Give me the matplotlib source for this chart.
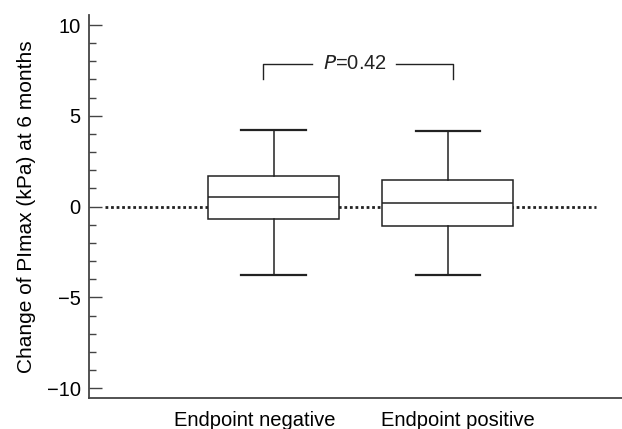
import matplotlib
matplotlib.use("Agg")
import matplotlib.pyplot as plt

plt.rcParams["font.family"] = ["Liberation Sans", "DejaVu Sans"]

groups = ["Endpoint negative", "Endpoint positive"]
whislo = [-3.75, -3.75]
q1 = [-0.68, -1.09]
med = [0.53, 0.20]
q3 = [1.71, 1.47]
whishi = [4.23, 4.17]
p_text = "0.42"

positions = [1, 2]
stats = [
    {"whislo": lo, "q1": a, "med": m, "q3": b, "whishi": hi, "fliers": []}
    for lo, a, m, b, hi in zip(whislo, q1, med, q3, whishi)
]

fig = plt.figure(figsize=(6.22, 4.29), dpi=100)
ax = fig.add_axes([0.143, 0.072, 0.857, 0.893])

ink = "#222222"
ax.plot([0.035, 2.85], [0, 0], color=ink, lw=2, ls=(0, (1, 1)), zorder=1)

ax.bxp(
    stats,
    positions=positions,
    widths=0.75,
    patch_artist=True,
    showfliers=False,
    boxprops={"facecolor": "white", "edgecolor": ink, "linewidth": 1.1},
    medianprops={"color": ink, "linewidth": 1.1},
    whiskerprops={"color": ink, "linewidth": 1.1},
    capprops={"color": ink, "linewidth": 1.6},
    capwidths=0.37,
    zorder=2,
)

# significance bracket
top, foot = 7.86, 7.04
ax.plot([0.94, 0.94, 1.22], [foot, top, top], color=ink, lw=1)
ax.plot([1.70, 2.03, 2.03], [top, top, foot], color=ink, lw=1)
ax.text(1.465, top, r"$\it{P}$" + "=" + p_text, ha="center", va="center",
        fontsize=14.5, color=ink)

ax.set_xlim(-0.06, 3.0)
ax.set_ylim(-10.55, 10.55)
ax.set_yticks([-10, -5, 0, 5, 10])
ax.set_yticklabels(["\u221210", "\u22125", "0", "5", "10"])
ax.set_yticks(range(-10, 11), minor=True)
ax.set_xticks([0.89, 2.06])
ax.set_xticklabels(groups)

ax.tick_params(axis="y", which="major", direction="in", length=9, width=1,
               color="#444444", labelsize=14.5, pad=6)
ax.tick_params(axis="y", which="minor", direction="in", length=5, width=1,
               color="#444444")
ax.tick_params(axis="x", length=0, labelsize=14.5, pad=9)

for s in ["top", "right"]:
    ax.spines[s].set_visible(False)
for s in ["left", "bottom"]:
    ax.spines[s].set_color("#444444")
    ax.spines[s].set_linewidth(1.3)

ax.set_ylabel("Change of PImax (kPa) at 6 months", fontsize=15, labelpad=8)

fig.savefig("out.png", dpi=100)
